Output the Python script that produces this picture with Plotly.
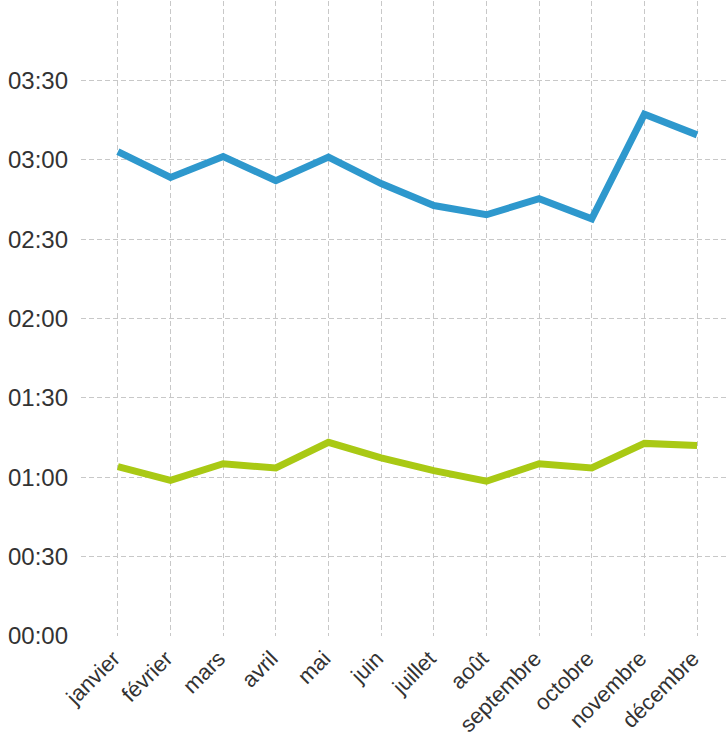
import plotly.graph_objects as go

months = ["janvier", "février", "mars", "avril", "mai", "juin", "juillet",
          "août", "septembre", "octobre", "novembre", "décembre"]
# durations in minutes
series_blue = [183.1, 173.3, 181.2, 172.1, 181.0, 171.0, 162.7, 159.2, 165.3, 157.7, 197.2, 189.4]
series_green = [64.0, 58.8, 65.1, 63.5, 73.2, 67.3, 62.5, 58.5, 65.1, 63.5, 72.8, 72.0]
tick_vals = [0, 30, 60, 90, 120, 150, 180, 210]
tick_text = ["00:00", "00:30", "01:00", "01:30", "02:00", "02:30", "03:00", "03:30"]

x_idx = list(range(len(months)))
# a non-breaking space pads the rotated labels slightly away from the tick
month_labels = [m + "\u00a0" for m in months]

fig = go.Figure()
fig.add_trace(go.Scatter(x=x_idx, y=series_blue, mode="lines",
                         line=dict(color="#2e98cd", width=7), showlegend=False))
fig.add_trace(go.Scatter(x=x_idx, y=series_green, mode="lines",
                         line=dict(color="#a9c914", width=7), showlegend=False))

fig.update_layout(
    width=726, height=738,
    margin=dict(l=81, r=0, t=1, b=102),
    plot_bgcolor="white", paper_bgcolor="white",
    font=dict(family="Liberation Sans, Arial, sans-serif", color="#333333"),
    xaxis=dict(
        range=[-0.7, 11.55], automargin=False,
        tickmode="array", tickvals=x_idx, ticktext=month_labels,
        tickangle=-45, tickfont=dict(size=22, color="#333333"),
        showgrid=True, gridcolor="#c8c8c8", griddash="5px,3px", gridwidth=1,
        zeroline=False, showline=False, ticks="",
    ),
    yaxis=dict(
        range=[0, 240], automargin=False,
        tickmode="array", tickvals=tick_vals, ticktext=tick_text,
        tickfont=dict(size=24, color="#333333"),
        showgrid=True, gridcolor="#c8c8c8", griddash="5px,3px", gridwidth=1,
        zeroline=False, showline=False, ticks="", ticklabelstandoff=12,
    ),
)

fig.write_html("out.html", config={"displayModeBar": False},
               post_script="document.body.style.margin='0';document.body.style.overflow='hidden';")
